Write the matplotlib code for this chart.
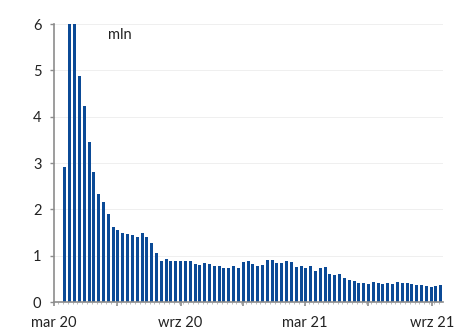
import matplotlib
matplotlib.use("Agg")
from matplotlib import pyplot as plt
import matplotlib.dates as mdates
from matplotlib.ticker import FuncFormatter
import pandas as pd

plt.rcParams['font.family'] = ['Lato', 'DejaVu Sans']

# tygodniowe wnioski o zasilek (mln), od tygodnia konczacego sie 21.03.2020
first_week = '2020-03-21'
claims = [2.92, 6.02, 6.21, 4.88, 4.22, 3.46, 2.80, 2.33, 2.16, 1.90,
          1.62, 1.55, 1.48, 1.47, 1.45, 1.41, 1.49, 1.40, 1.27, 1.05,
          0.89, 0.92, 0.88, 0.88, 0.89, 0.88, 0.88, 0.81, 0.79, 0.84,
          0.82, 0.78, 0.78, 0.74, 0.74, 0.77, 0.73, 0.86, 0.89, 0.82,
          0.78, 0.79, 0.91, 0.90, 0.84, 0.85, 0.88, 0.86, 0.76, 0.77,
          0.74, 0.77, 0.66, 0.74, 0.75, 0.60, 0.58, 0.61, 0.52, 0.48,
          0.46, 0.42, 0.40, 0.38, 0.43, 0.42, 0.38, 0.40, 0.39, 0.44,
          0.41, 0.40, 0.39, 0.36, 0.37, 0.35, 0.32, 0.34, 0.36]
weeks = pd.date_range(first_week, periods=len(claims), freq='7D')
month_names = {3: 'mar', 9: 'wrz'}

fig = plt.figure(figsize=(4.57, 3.29), dpi=100)
ax = fig.add_axes([0.118, 0.082, 0.851, 0.845])

x = mdates.date2num(weeks) - 4  # slupek na srodku tygodnia
ax.bar(x, claims, width=4.4, color='#0b4a96', zorder=2)

ax.set_ylim(0, 6)
ax.set_yticks(range(7))
ax.set_xlim(mdates.date2num(pd.Timestamp('2020-03-01')),
            mdates.date2num(pd.Timestamp('2021-09-17')))

ax.xaxis.set_major_locator(mdates.MonthLocator(bymonth=[3, 6, 9, 12]))
ax.xaxis.set_minor_locator(mdates.WeekdayLocator(byweekday=mdates.SA))


def fmt(v, pos):
    d = mdates.num2date(v)
    if d.month in month_names:
        return f"{month_names[d.month]} {d.strftime('%y')}"
    return ''


ax.xaxis.set_major_formatter(FuncFormatter(fmt))

for s in ['top', 'right']:
    ax.spines[s].set_visible(False)
for s in ['left', 'bottom']:
    ax.spines[s].set_color('#8c8c8c')
    ax.spines[s].set_linewidth(1.2)

ax.tick_params(axis='y', length=3, width=1, color='#8c8c8c', pad=6,
               labelsize=10.5, labelcolor='#222222')
ax.tick_params(axis='x', which='major', length=3, width=1.2, color='#8c8c8c',
               pad=7, labelsize=10.5, labelcolor='#222222')
ax.tick_params(axis='x', which='minor', length=1.5, width=0.6, color='#b0b0b0')

ax.grid(axis='y', color='#ececec', linewidth=0.6, zorder=0)

ax.text(mdates.date2num(pd.Timestamp('2020-05-18')), 5.76, 'mln',
        fontsize=10.5, color='#222222', va='center', ha='left')

plt.savefig('out.png', dpi=100)
